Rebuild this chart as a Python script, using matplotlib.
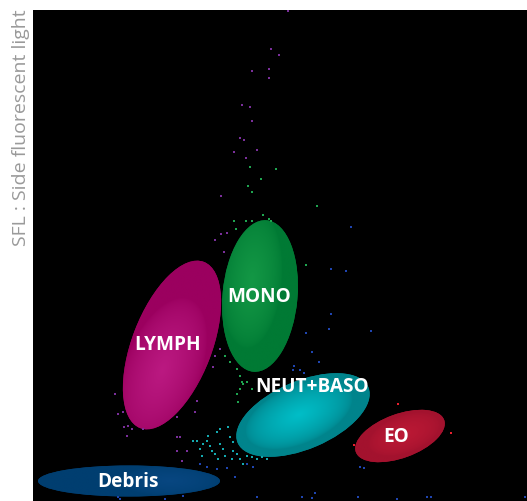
import matplotlib
matplotlib.use("Agg")
import numpy as np
import matplotlib.pyplot as plt
from matplotlib.patches import Ellipse
from matplotlib.colors import to_rgb

# Scattergram extent (channel units)
X_MAX = 494
Y_MAX = 491

# Gates: centre, full width along major axis, full height, rotation (deg)
gate_names = ["LYMPH", "MONO", "NEUT+BASO", "EO", "Debris"]
gate_x = [139, 227, 270, 367, 96]
gate_y = [156, 205, 86, 65, 20]
gate_w = [178, 152, 142, 94, 182]
gate_h = [80, 75, 68, 44, 31]
gate_angle = [69, 85, 23, 20, 0]
label_x = [134.5, 226, 279.5, 363, 95]
label_y = [157, 205, 115, 65, 20]

# Events lying outside the gates
purple_x = [255, 238, 246, 219, 236, 236, 209, 217, 219, 207, 211, 201, 224, 213,
            188, 188, 194, 182, 191, 82, 85, 90, 91, 95, 99, 94, 110, 144, 162, 164,
            144, 147, 144, 154, 149, 182, 180, 187]
purple_y = [490, 452, 446, 430, 432, 423, 396, 394, 380, 363, 361, 349, 351, 343,
            305, 267, 268, 261, 249, 107, 87, 89, 74, 75, 72, 65, 72, 84, 89, 100,
            64, 64, 50, 50, 40, 145, 134, 152]
green_x = [217, 243, 228, 215, 219, 284, 230, 201, 213, 219, 236, 238, 203, 273,
           192, 197, 204, 207, 209, 204, 207, 205, 210, 219, 214]
green_y = [334, 332, 322, 315, 309, 295, 286, 280, 280, 280, 282, 280, 272, 236,
           145, 139, 132, 125, 119, 107, 112, 99, 117, 112, 119]
teal_x = [167, 170, 174, 177, 179, 175, 184, 187, 187, 190, 195, 197, 200, 200, 204,
          207, 214, 219, 224, 229, 234, 164, 182, 185, 192, 169, 199, 210, 160]
teal_y = [52, 57, 60, 55, 50, 65, 69, 72, 57, 52, 74, 64, 59, 50, 47,
          42, 45, 44, 42, 44, 42, 60, 47, 42, 45, 45, 42, 37, 60]
blue_x = [167, 174, 184, 194, 202, 214, 220, 87, 132, 150, 298, 313, 298, 296, 273,
          338, 279, 286, 261, 260, 267, 271, 331, 364, 398, 492, 282, 85, 224, 269,
          279, 325, 394, 327, 318]
blue_y = [37, 34, 32, 33, 24, 37, 34, 2, 2, 5, 232, 230, 187, 172, 168,
          170, 149, 139, 135, 131, 131, 128, 33, 2, 4, 4, 8, 4, 4, 4,
          3, 4, 4, 34, 274]
red_x = [365, 418, 321]
red_y = [97, 68, 56]

# Gate colours: edge tone and dense-core tone
base_colors = ["#9b005f", "#007a34", "#00848c", "#a3122e", "#003e70"]
core_colors = ["#d02a98", "#2bbb5a", "#00c8d2", "#e0233f", "#1a5aa8"]
# core placement in the gate frame (u along major, v along minor), spread, strength
core_u = [-0.3, 0.2, -0.05, 0.1, 0.45]
core_v = [0.0, 0.25, 0.05, 0.0, 0.0]
core_su = [0.85, 0.9, 0.8, 0.8, 0.55]
core_sv = [0.95, 0.8, 0.85, 0.85, 1.0]
core_k = [0.6, 0.45, 0.85, 0.4, 0.3]

fig = plt.figure(figsize=(5.27, 5.02), dpi=100)
fig.patch.set_facecolor("white")
ax = fig.add_axes([33 / 527, 0, 494 / 527, 491 / 502])
ax.set_facecolor("black")
ax.set_xticks([])
ax.set_yticks([])
for s in ax.spines.values():
    s.set_visible(False)

gx = np.linspace(0, X_MAX, 700)
gy = np.linspace(0, Y_MAX, 700)
GX, GY = np.meshgrid(gx, gy)

for i in range(len(gate_names)):
    e = Ellipse((gate_x[i], gate_y[i]), gate_w[i], gate_h[i], angle=gate_angle[i],
                facecolor=base_colors[i], edgecolor="none", zorder=2)
    ax.add_patch(e)
    th = np.radians(gate_angle[i])
    a, b = gate_w[i] / 2, gate_h[i] / 2
    dx, dy = GX - gate_x[i], GY - gate_y[i]
    u = (dx * np.cos(th) + dy * np.sin(th)) / a
    v = (-dx * np.sin(th) + dy * np.cos(th)) / b
    d = np.sqrt(((u - core_u[i]) / core_su[i]) ** 2 + ((v - core_v[i]) / core_sv[i]) ** 2)
    t = np.clip(1 - d, 0, 1) ** 0.6 * core_k[i]
    c0 = np.array(to_rgb(base_colors[i]))
    c1 = np.array(to_rgb(core_colors[i]))
    img = c0[None, None, :] * (1 - t[..., None]) + c1[None, None, :] * t[..., None]
    im = ax.imshow(img, extent=(0, X_MAX, 0, Y_MAX), origin="lower",
                   interpolation="bilinear", zorder=3, aspect="auto")
    im.set_clip_path(e)

dot = dict(marker="s", s=3.2, linewidths=0, zorder=4)
ax.scatter(purple_x, purple_y, color="#7a2f9a", **dot)
ax.scatter(green_x, green_y, color="#1fa550", **dot)
ax.scatter(teal_x, teal_y, color="#14aab0", **dot)
ax.scatter(blue_x, blue_y, color="#1f45b0", **dot)
ax.scatter(red_x, red_y, color="#e8202e", **dot)

for name, lx, ly in zip(gate_names, label_x, label_y):
    ax.text(lx, ly, name, color="white", fontsize=13.7, fontweight="bold",
            family="Open Sans", ha="center", va="center", zorder=6)

ax.set_xlim(0, X_MAX)
ax.set_ylim(0, Y_MAX)

fig.text(21.5 / 527, 1 - 9 / 502, "SFL : Side fluorescent light", rotation=90,
         ha="center", va="top", color="#9a9a9a", fontsize=14, family="Open Sans")

fig.savefig("out.png", dpi=100, facecolor="white")
